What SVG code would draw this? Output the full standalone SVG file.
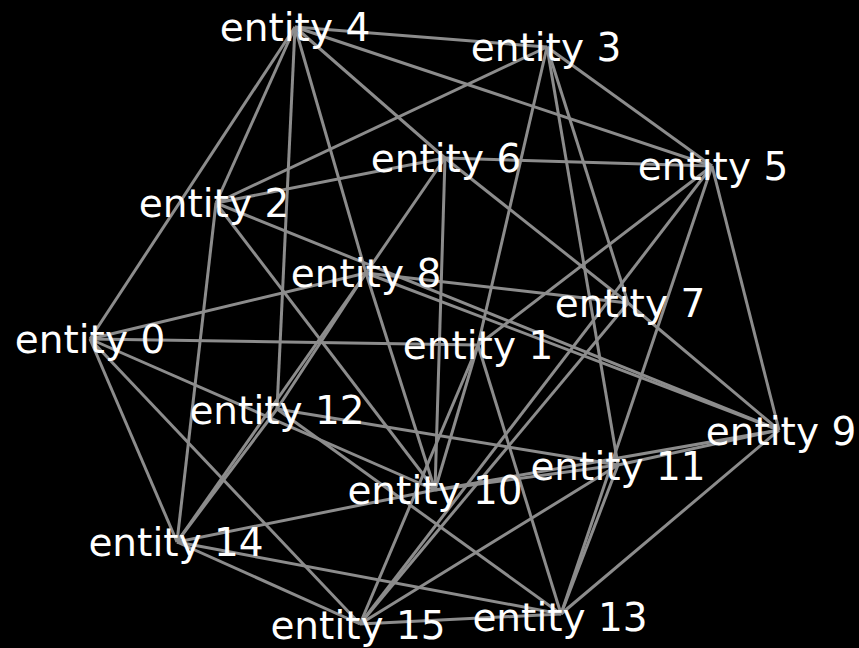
<svg xmlns="http://www.w3.org/2000/svg" width="859" height="648" viewBox="0 0 859 648">
<style>
.e line{stroke:#8c8c8c;stroke-width:3;}
.n text{fill:#ffffff;font-family:"DejaVu Sans",Verdana,sans-serif;font-size:39px;text-anchor:middle;}
</style>
<rect width="859" height="648" fill="#000000"/>
<g id="connectors" class="e">
<line x1="295" y1="27" x2="547" y2="47"/>
<line x1="295" y1="27" x2="712" y2="166"/>
<line x1="295" y1="27" x2="445" y2="158"/>
<line x1="445" y1="158" x2="628" y2="303"/>
<line x1="628" y1="303" x2="779" y2="430"/>
<line x1="295" y1="27" x2="277" y2="409"/>
<line x1="295" y1="27" x2="366" y2="273"/>
<line x1="366" y1="273" x2="435" y2="490"/>
<line x1="295" y1="27" x2="216" y2="203"/>
<line x1="295" y1="27" x2="90" y2="339"/>
<line x1="547" y1="47" x2="216" y2="203"/>
<line x1="547" y1="47" x2="712" y2="166"/>
<line x1="547" y1="47" x2="478" y2="345"/>
<line x1="547" y1="47" x2="618" y2="465"/>
<line x1="547" y1="47" x2="628" y2="303"/>
<line x1="712" y1="166" x2="445" y2="158"/>
<line x1="712" y1="166" x2="478" y2="345"/>
<line x1="712" y1="166" x2="360" y2="624"/>
<line x1="712" y1="166" x2="561" y2="614"/>
<line x1="712" y1="166" x2="779" y2="430"/>
<line x1="445" y1="158" x2="216" y2="203"/>
<line x1="445" y1="158" x2="435" y2="490"/>
<line x1="445" y1="158" x2="366" y2="273"/>
<line x1="366" y1="273" x2="177" y2="542"/>
<line x1="366" y1="273" x2="277" y2="409"/>
<line x1="366" y1="273" x2="90" y2="339"/>
<line x1="366" y1="273" x2="628" y2="303"/>
<line x1="366" y1="273" x2="779" y2="430"/>
<line x1="216" y1="203" x2="779" y2="430"/>
<line x1="216" y1="203" x2="177" y2="542"/>
<line x1="216" y1="203" x2="435" y2="490"/>
<line x1="90" y1="339" x2="478" y2="345"/>
<line x1="90" y1="339" x2="177" y2="542"/>
<line x1="90" y1="339" x2="360" y2="624"/>
<line x1="90" y1="339" x2="435" y2="490"/>
<line x1="478" y1="345" x2="435" y2="490"/>
<line x1="478" y1="345" x2="561" y2="614"/>
<line x1="478" y1="345" x2="360" y2="624"/>
<line x1="277" y1="409" x2="177" y2="542"/>
<line x1="277" y1="409" x2="618" y2="465"/>
<line x1="277" y1="409" x2="561" y2="614"/>
<line x1="177" y1="542" x2="435" y2="490"/>
<line x1="177" y1="542" x2="561" y2="614"/>
<line x1="177" y1="542" x2="360" y2="624"/>
<line x1="435" y1="490" x2="618" y2="465"/>
<line x1="618" y1="465" x2="779" y2="430"/>
<line x1="435" y1="490" x2="779" y2="430"/>
<line x1="618" y1="465" x2="561" y2="614"/>
<line x1="561" y1="614" x2="779" y2="430"/>
<line x1="360" y1="624" x2="561" y2="614"/>
<line x1="360" y1="624" x2="628" y2="303"/>
<line x1="360" y1="624" x2="618" y2="465"/>
</g>
<g id="node0" class="n"><text x="90" y="353">entity 0</text></g>
<g id="node1" class="n"><text x="478" y="359">entity 1</text></g>
<g id="node2" class="n"><text x="214" y="217">entity 2</text></g>
<g id="node3" class="n"><text x="546" y="61">entity 3</text></g>
<g id="node4" class="n"><text x="295" y="41">entity 4</text></g>
<g id="node5" class="n"><text x="713" y="180">entity 5</text></g>
<g id="node6" class="n"><text x="446" y="172">entity 6</text></g>
<g id="node7" class="n"><text x="630" y="317">entity 7</text></g>
<g id="node8" class="n"><text x="366" y="287">entity 8</text></g>
<g id="node9" class="n"><text x="781" y="445">entity 9</text></g>
<g id="node10" class="n"><text x="435" y="504">entity 10</text></g>
<g id="node11" class="n"><text x="618" y="480">entity 11</text></g>
<g id="node12" class="n"><text x="277" y="424">entity 12</text></g>
<g id="node13" class="n"><text x="560" y="631">entity 13</text></g>
<g id="node14" class="n"><text x="176" y="556">entity 14</text></g>
<g id="node15" class="n"><text x="358" y="639">entity 15</text></g>
</svg>
